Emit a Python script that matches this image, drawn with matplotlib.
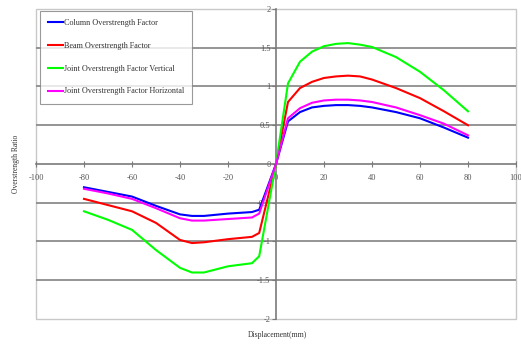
import matplotlib
matplotlib.use("Agg")
import matplotlib.pyplot as plt
from matplotlib.patches import Rectangle

# Displacement steps (mm) and overstrength ratios per series
displacement = [-80, -70, -60, -50, -40, -35, -30, -20, -10, -7, 0,
                5, 10, 15, 20, 25, 30, 35, 40, 50, 60, 70, 80]

column_factor = [-0.30, -0.36, -0.42, -0.54, -0.65, -0.67, -0.67, -0.64, -0.62, -0.59, 0.0,
                 0.55, 0.67, 0.73, 0.75, 0.76, 0.76, 0.75, 0.73, 0.67, 0.59, 0.47, 0.34]

beam_factor = [-0.45, -0.53, -0.61, -0.76, -0.98, -1.02, -1.01, -0.97, -0.94, -0.89, 0.0,
               0.80, 0.98, 1.06, 1.11, 1.13, 1.14, 1.13, 1.09, 0.98, 0.85, 0.68, 0.50]

joint_vertical = [-0.61, -0.72, -0.85, -1.11, -1.34, -1.40, -1.40, -1.32, -1.28, -1.19, 0.0,
                  1.04, 1.32, 1.45, 1.52, 1.55, 1.56, 1.54, 1.51, 1.38, 1.19, 0.95, 0.68]

joint_horizontal = [-0.32, -0.38, -0.45, -0.57, -0.70, -0.73, -0.73, -0.71, -0.69, -0.64, 0.0,
                    0.59, 0.72, 0.79, 0.82, 0.83, 0.83, 0.82, 0.80, 0.73, 0.63, 0.52, 0.37]

series_labels = ["Column Overstrength Factor", "Beam Overstrength Factor",
                 "Joint Overstrength Factor Vertical", "Joint Overstrength Factor Horizontal"]
series_colors = ["#0000FF", "#FF0000", "#00FF00", "#FF00FF"]

x_ticks = [-100, -80, -60, -40, -20, 0, 20, 40, 60, 80, 100]
y_ticks = [-2, -1.5, -1, -0.5, 0, 0.5, 1, 1.5, 2]
y_tick_labels = ["-2", "-1.5", "-1", "-0.5", "0", "0.5", "1", "1.5", "2"]

serif = ["Liberation Serif", "DejaVu Serif"]

fig = plt.figure(figsize=(5.21, 3.46), dpi=100)
ax = fig.add_axes([36 / 521, 1 - 319 / 346, 480 / 521, 310 / 346])

ax.set_xlim(-100, 100)
ax.set_ylim(-2, 2)

# horizontal gridlines
for yv in y_ticks:
    if yv in (-2, 2, 0):
        continue
    ax.axhline(yv, color="#8c8c8c", lw=1.3, zorder=1)

series = [column_factor, beam_factor, joint_vertical, joint_horizontal]
for vals, lab, col in zip(series, series_labels, series_colors):
    ax.plot(displacement, vals, color=col, lw=1.5, label=lab, zorder=3,
            solid_joinstyle="round")

# axis lines through the origin
for s in ("top", "right"):
    ax.spines[s].set_visible(False)
ax.spines["left"].set_position(("data", 0))
ax.spines["bottom"].set_position(("data", 0))
for s in ("left", "bottom"):
    ax.spines[s].set_color("#7a7a7a")
    ax.spines[s].set_linewidth(1.2)
    ax.spines[s].set_zorder(2)

# light outer frame
ax.add_patch(Rectangle((0, 0), 1, 1, transform=ax.transAxes, fill=False,
                       edgecolor="#c8c8c8", lw=1.0, zorder=0, clip_on=False))

ax.set_xticks(x_ticks)
ax.set_xticklabels([str(v) for v in x_ticks])
ax.set_yticks(y_ticks)
ax.set_yticklabels(y_tick_labels)
ax.tick_params(axis="x", direction="inout", length=4, width=0.8, color="#7a7a7a",
               labelsize=6, labelcolor="#555555", pad=5)
ax.tick_params(axis="y", direction="out", length=3, width=0.8, color="#7a7a7a",
               labelsize=6, labelcolor="#555555", pad=1)
for lbl in ax.get_xticklabels() + ax.get_yticklabels():
    lbl.set_family(serif)

fig.text(16 / 521, 1 - 164 / 346, "Overstrength Ratio", rotation=90,
         ha="center", va="center", fontsize=5.5, family=serif, color="#333333")
fig.text(277 / 521, 1 - 335 / 346, "Displacement(mm)", ha="center", va="center",
         fontsize=5.5, family=serif, color="#333333")

leg = ax.legend(loc="upper left", bbox_to_anchor=(4 / 480, 1 - 2 / 310),
                prop={"family": serif, "size": 5.9}, frameon=True, fancybox=False,
                shadow=False, handlelength=1.8, handletextpad=0.1,
                labelspacing=1.8, borderpad=1.0, borderaxespad=0)
leg.get_frame().set_edgecolor("#808080")
leg.get_frame().set_linewidth(0.8)
for t in leg.get_texts():
    t.set_color("#333333")

fig.savefig("out.png", dpi=100)
